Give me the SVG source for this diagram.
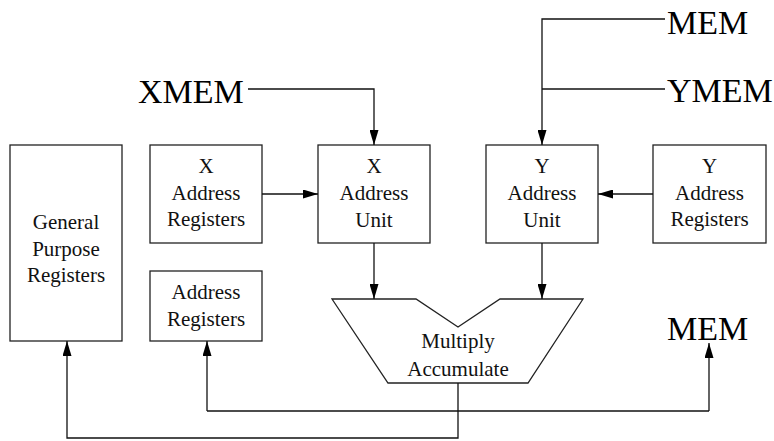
<svg xmlns="http://www.w3.org/2000/svg" width="774" height="441" viewBox="0 0 774 441">
  <style>
    .box { fill: #fff; stroke: #222; stroke-width: 1.3; }
    .wire { fill: none; stroke: #111; stroke-width: 1.3; }
    text { font-family: "Liberation Serif", "Times New Roman", serif; }
    .lbl { font-size: 21px; fill: #111; text-anchor: middle; }
    .big { font-size: 34px; fill: #000; }
  </style>
  <defs>
    <marker id="arrow" viewBox="0 0 15 9" refX="15" refY="4.5" markerWidth="15" markerHeight="9" markerUnits="userSpaceOnUse" orient="auto">
      <path d="M0,0 L15,4.5 L0,9 Z" fill="#000"/>
    </marker>
  </defs>
  <rect width="774" height="441" fill="#fff"/>

  <g id="xmem"><text class="big" x="138" y="103">XMEM</text></g>
  <g id="mem-top"><text class="big" x="667" y="34">MEM</text></g>
  <g id="ymem"><text class="big" x="667" y="102">YMEM</text></g>
  <g id="mem-out"><text class="big" x="667" y="340">MEM</text></g>

  <g id="gpr">
    <rect class="box" x="10" y="145" width="112" height="196"/>
    <text class="lbl" x="66" y="229">General</text>
    <text class="lbl" x="66" y="256">Purpose</text>
    <text class="lbl" x="66" y="282">Registers</text>
  </g>
  <g id="x-addr-regs">
    <rect class="box" x="150" y="145" width="112" height="98"/>
    <text class="lbl" x="206" y="173">X</text>
    <text class="lbl" x="206" y="200">Address</text>
    <text class="lbl" x="206" y="226">Registers</text>
  </g>
  <g id="addr-regs">
    <rect class="box" x="150" y="271" width="112" height="70"/>
    <text class="lbl" x="206" y="299">Address</text>
    <text class="lbl" x="206" y="326">Registers</text>
  </g>
  <g id="x-addr-unit">
    <rect class="box" x="318" y="145" width="112" height="98"/>
    <text class="lbl" x="374" y="173">X</text>
    <text class="lbl" x="374" y="200">Address</text>
    <text class="lbl" x="374" y="227">Unit</text>
  </g>
  <g id="y-addr-unit">
    <rect class="box" x="486" y="145" width="112" height="98"/>
    <text class="lbl" x="542" y="173">Y</text>
    <text class="lbl" x="542" y="200">Address</text>
    <text class="lbl" x="542" y="227">Unit</text>
  </g>
  <g id="y-addr-regs">
    <rect class="box" x="653" y="145" width="113" height="98"/>
    <text class="lbl" x="709.5" y="173">Y</text>
    <text class="lbl" x="709.5" y="200">Address</text>
    <text class="lbl" x="709.5" y="226">Registers</text>
  </g>
  <g id="mac">
    <path class="box" d="M332,299 L416,299 L458,327 L500,299 L583,299 L528,383 L388,383 Z"/>
    <text class="lbl" x="458" y="348">Multiply</text>
    <text class="lbl" x="458" y="376">Accumulate</text>
  </g>

  <g id="connectors">
    <path class="wire" d="M248,89 H374 V145" marker-end="url(#arrow)"/>
    <path class="wire" d="M665,19 H542 V145" marker-end="url(#arrow)"/>
    <path class="wire" d="M665,89 H542"/>
    <path class="wire" d="M262,194 H318" marker-end="url(#arrow)"/>
    <path class="wire" d="M653,194 H598" marker-end="url(#arrow)"/>
    <path class="wire" d="M374,243 V299" marker-end="url(#arrow)"/>
    <path class="wire" d="M542,243 V299" marker-end="url(#arrow)"/>
    <path class="wire" d="M458,383 V438 H67 V341" marker-end="url(#arrow)"/>
    <path class="wire" d="M207,411 H709"/>
    <path class="wire" d="M207,411 V341" marker-end="url(#arrow)"/>
    <path class="wire" d="M709,411 V343" marker-end="url(#arrow)"/>
  </g>
</svg>
